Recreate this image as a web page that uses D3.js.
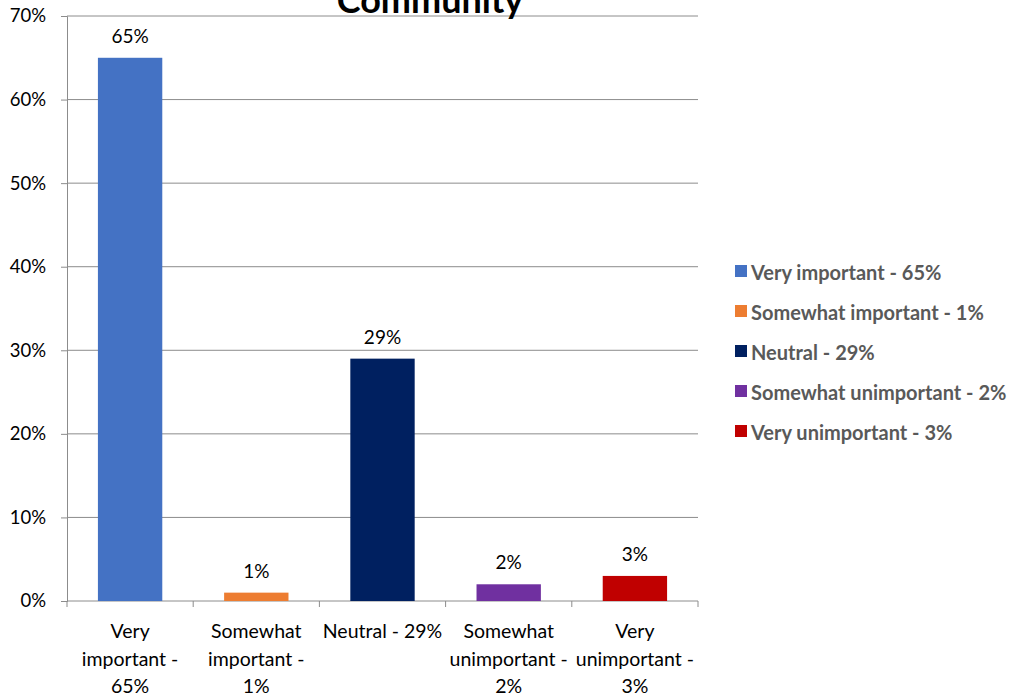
<!DOCTYPE html>
<html lang="en">
<head>
    <meta charset="UTF-8">
    <title>Community</title>
    <script src="https://cdn.jsdelivr.net/npm/d3@7/dist/d3.min.js"></script>
    <style>
        body { margin: 0; background: #fff; }
        text { font-family: Lato, "Open Sans", sans-serif; }
    </style>
</head>
<body>
<div id="container"></div>

<script>
// chart data
const categories = ["Very important - 65%", "Somewhat important - 1%", "Neutral - 29%",
    "Somewhat unimportant - 2%", "Very unimportant - 3%"];
const values = [0.65, 0.01, 0.29, 0.02, 0.03];
const colors = ["#4472C4", "#ED7D31", "#002060", "#7030A0", "#C00000"];
const tickLines = [
    ["Very", "important -", "65%"],
    ["Somewhat", "important -", "1%"],
    ["Neutral - 29%"],
    ["Somewhat", "unimportant -", "2%"],
    ["Very", "unimportant -", "3%"]
];
const yTicks = [0, 0.1, 0.2, 0.3, 0.4, 0.5, 0.6, 0.7];

let W = 1016, H = 697;
let svg = d3.select('#container')
    .append('svg')
    .attr('width', W)
    .attr('height', H);

let plotLeft = 67, plotRight = 698, plotTop = 16, plotBottom = 601;

let x = d3.scaleBand()
    .domain(categories)
    .range([plotLeft, plotRight])
    .paddingInner(0.49)
    .paddingOuter(0.245);
// band boundaries for tick marks
let step = (plotRight - plotLeft) / categories.length;

let y = d3.scaleLinear()
    .domain([0, 0.7])
    .range([plotBottom, plotTop]);

let fmt = d3.format(".0%");

// gridlines
svg.append("g")
    .selectAll("line")
    .data(yTicks.slice(1))
    .join("line")
    .attr("x1", plotLeft).attr("x2", plotRight)
    .attr("y1", d => y(d)).attr("y2", d => y(d))
    .attr("stroke", "#8c8c8c")
    .attr("stroke-width", 1);

// y axis
let yAxis = svg.append("g")
    .attr("transform", "translate(" + plotLeft + ",0)")
    .call(d3.axisLeft(y).tickValues(yTicks).tickFormat(fmt).tickSize(6).tickPadding(15));
yAxis.select(".domain").attr("stroke", "#8c8c8c");
yAxis.selectAll(".tick line").attr("stroke", "#8c8c8c");
yAxis.selectAll(".tick text")
    .style("font-size", "18.5px")
    .attr("fill", "#000");

// x axis baseline and ticks at band boundaries
svg.append("line")
    .attr("x1", plotLeft).attr("x2", plotRight)
    .attr("y1", plotBottom).attr("y2", plotBottom)
    .attr("stroke", "#8c8c8c");
svg.append("g")
    .selectAll("line")
    .data(d3.range(categories.length + 1))
    .join("line")
    .attr("x1", i => plotLeft + i * step).attr("x2", i => plotLeft + i * step)
    .attr("y1", plotBottom).attr("y2", plotBottom + 6)
    .attr("stroke", "#8c8c8c");

// bars
svg.append("g")
    .selectAll("rect")
    .data(categories)
    .join("rect")
    .attr("x", d => x(d))
    .attr("width", x.bandwidth())
    .attr("y", (d, i) => y(values[i]))
    .attr("height", (d, i) => y(0) - y(values[i]))
    .attr("fill", (d, i) => colors[i]);

// value labels
svg.append("g")
    .selectAll("text")
    .data(categories)
    .join("text")
    .attr("x", d => x(d) + x.bandwidth() / 2)
    .attr("y", (d, i) => y(values[i]) - 15)
    .attr("text-anchor", "middle")
    .style("font-size", "19px")
    .text((d, i) => fmt(values[i]));

// category labels
let catG = svg.append("g")
    .selectAll("text")
    .data(categories)
    .join("text")
    .attr("x", d => x(d) + x.bandwidth() / 2)
    .attr("y", 638)
    .attr("text-anchor", "middle")
    .style("font-size", "19.5px");
catG.selectAll("tspan")
    .data((d, i) => tickLines[i])
    .join("tspan")
    .attr("x", function () { return this.parentNode.getAttribute("x"); })
    .attr("dy", (d, j) => j === 0 ? 0 : 27.5)
    .text(d => d);

// title, partly cut off at the top
svg.append("text")
    .attr("x", 430)
    .attr("y", 13)
    .attr("text-anchor", "middle")
    .style("font-size", "36px")
    .style("font-weight", "bold")
    .text("Community");

// legend
let legend = svg.append("g")
    .selectAll("g")
    .data(categories)
    .join("g")
    .attr("transform", (d, i) => "translate(735," + (271 + i * 40) + ")");
legend.append("rect")
    .attr("x", 0).attr("y", -6)
    .attr("width", 12).attr("height", 12)
    .attr("fill", (d, i) => colors[i]);
legend.append("text")
    .attr("x", 16)
    .attr("y", 1)
    .attr("dominant-baseline", "central")
    .style("font-size", "20px")
    .style("font-weight", "bold")
    .attr("fill", "#595959")
    .text(d => d);
</script>
</body>
</html>
